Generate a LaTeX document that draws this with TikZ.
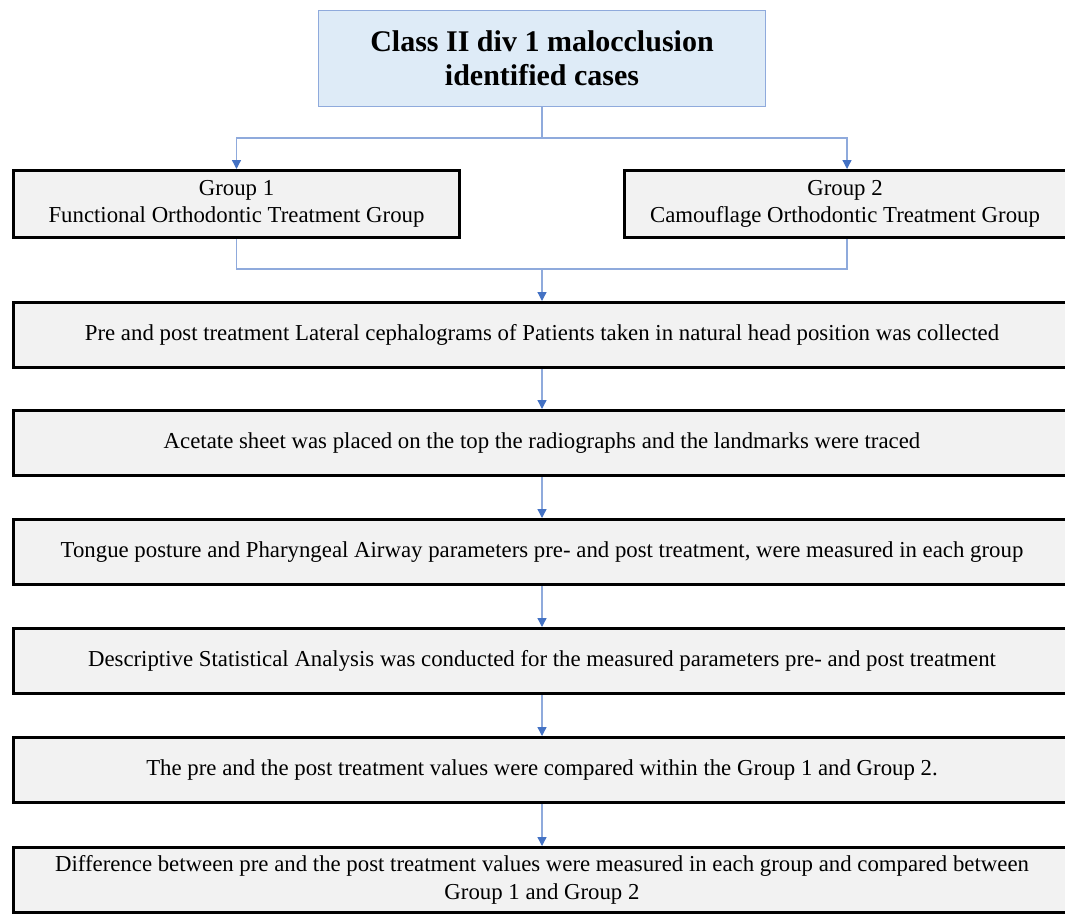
\documentclass[tikz,border=0pt]{standalone}
\usepackage{fontspec}
\setmainfont{Liberation Serif}
\usetikzlibrary{arrows.meta}
\definecolor{topfill}{HTML}{DEEBF7}
\definecolor{topline}{HTML}{8FAADC}
\definecolor{boxfill}{HTML}{F2F2F2}
\definecolor{linkc}{HTML}{8FAADC}
\definecolor{tipc}{HTML}{4472C4}
\tikzset{
  topbox/.style={draw=topline, line width=1pt, fill=topfill, minimum width=447pt, minimum height=96pt, inner sep=0pt, align=center, font=\bfseries\fontsize{30}{34}\selectfont},
  grpbox/.style={draw=black, line width=3pt, fill=boxfill, minimum width=446pt, minimum height=67pt, inner sep=0pt, align=center, font=\fontsize{22.8}{27}\selectfont},
  longbox/.style={draw=black, line width=3pt, fill=boxfill, minimum width=1057pt, minimum height=65pt, inner sep=0pt, align=center, font=\fontsize{22.8}{28}\selectfont},
  link/.style={draw=linkc, line width=1.3pt},
  arr/.style={link, -{Triangle[length=9pt, width=9pt, color=tipc, fill=tipc]}}
}
\begin{document}
\begin{tikzpicture}[x=1pt,y=-1pt]
\useasboundingbox (0,0) rectangle (1065,922);
\clip (0,0) rectangle (1065,922);
\fill[white] (0,0) rectangle (1065,922);
\node[topbox] (top) at (542,58.5) {Class II div 1 malocclusion\\identified cases};
\node[grpbox] (g1) at (236.5,204) {Group 1\\Functional Orthodontic Treatment Group};
\node[grpbox, minimum width=447pt] (g2) at (847.5,204) {\hspace*{-5pt}Group 2\\\hspace*{-5pt}Camouflage Orthodontic Treatment Group};
\node[longbox] (b1) at (542,335) {Pre and post treatment Lateral cephalograms of Patients taken in natural head position was collected};
\node[longbox] (b2) at (542,443) {Acetate sheet was placed on the top the radiographs and the landmarks were traced};
\node[longbox] (b3) at (542,552) {Tongue posture and Pharyngeal Airway parameters pre- and post treatment, were measured in each group};
\node[longbox] (b4) at (542,661) {Descriptive Statistical Analysis was conducted for the measured parameters pre- and post treatment};
\node[longbox] (b5) at (542,770) {The pre and the post treatment values were compared within the Group 1 and Group 2.};
\node[longbox] (b6) at (542,880) {Difference between pre and the post treatment values were measured in each group and compared between\\Group 1 and Group 2};
\coordinate (j1) at (542,138);
\coordinate (j2) at (542,269);
\draw[link] (top.south) -- (j1);
\draw[arr] (j1) -| (g1.north);
\draw[arr] (j1) -| ([xshift=-0.5pt]g2.north);
\draw[link] (g1.south) |- (j2);
\draw[link] ([xshift=-0.5pt]g2.south) |- (j2);
\draw[arr] (j2) -- (b1.north);
\draw[arr] (b1.south) -- (b2.north);
\draw[arr] (b2.south) -- (b3.north);
\draw[arr] (b3.south) -- (b4.north);
\draw[arr] (b4.south) -- (b5.north);
\draw[arr] (b5.south) -- (b6.north);
\end{tikzpicture}
\end{document}
